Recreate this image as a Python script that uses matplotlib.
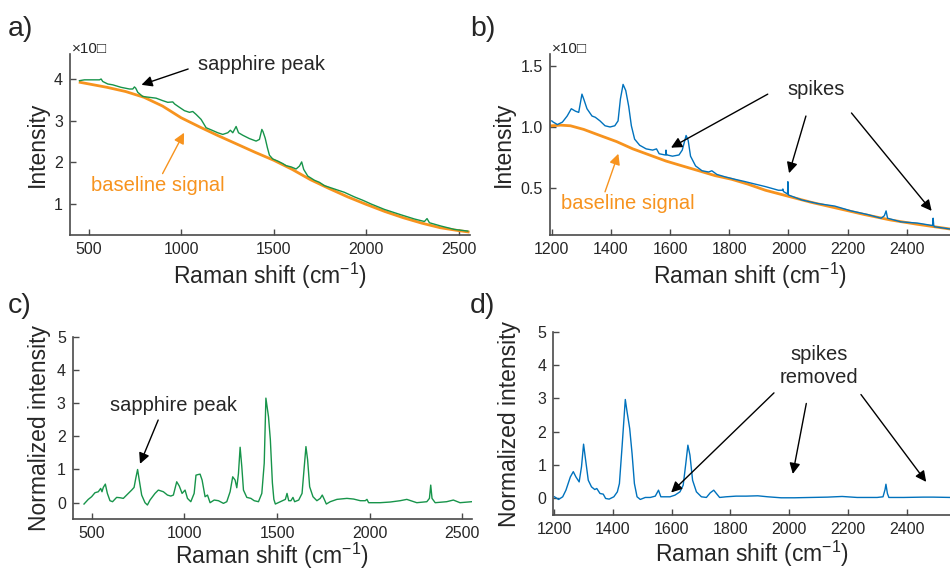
import matplotlib
matplotlib.use("Agg")
import matplotlib.pyplot as plt

plt.rcParams['font.family'] = ['Liberation Sans', 'DejaVu Sans']
plt.rcParams['mathtext.fontset'] = 'custom'
plt.rcParams['mathtext.rm'] = 'Liberation Sans'
plt.rcParams['mathtext.it'] = 'Liberation Sans:italic'
plt.rcParams['mathtext.bf'] = 'Liberation Sans:bold'

# ---------------- data ----------------
# a) raw spectrum (full range) and fitted baseline, intensity in units of 1e4
raw_full_x = [451, 478, 514, 559, 568, 577, 604, 631, 676, 721, 739, 748, 755, 766, 793, 829, 865,
              901, 928, 955, 965, 991, 1018, 1045, 1063, 1081, 1108, 1135, 1162, 1198, 1225, 1252,
              1266, 1279, 1297, 1310, 1333, 1369, 1405, 1423, 1436, 1442, 1454, 1466, 1477, 1495,
              1522, 1549, 1567, 1594, 1621, 1639, 1651, 1662, 1684, 1720, 1747, 1774, 1828, 1882,
              1936, 1981, 2026, 2098, 2188, 2260, 2314, 2328, 2341, 2404, 2476, 2548]
raw_full_y = [3.96, 3.98, 3.98, 3.98, 4.00, 3.94, 3.88, 3.86, 3.80, 3.76, 3.76, 3.81, 3.78, 3.68,
              3.58, 3.56, 3.54, 3.48, 3.44, 3.45, 3.40, 3.32, 3.24, 3.20, 3.22, 3.15, 3.03, 2.83,
              2.78, 2.71, 2.67, 2.71, 2.77, 2.71, 2.86, 2.71, 2.65, 2.57, 2.51, 2.55, 2.79, 2.74,
              2.58, 2.35, 2.17, 2.08, 2.03, 1.97, 1.92, 1.89, 1.84, 1.91, 2.01, 1.83, 1.67, 1.57,
              1.52, 1.44, 1.36, 1.28, 1.17, 1.09, 1.00, 0.87, 0.74, 0.64, 0.58, 0.65, 0.55, 0.47,
              0.39, 0.35]
base_full_x = [455, 600, 700, 800, 900, 1000, 1100, 1200, 1300, 1400, 1500, 1600, 1700, 1800,
               1900, 2000, 2100, 2200, 2300, 2400, 2500, 2550]
base_full_y = [3.92, 3.80, 3.70, 3.56, 3.35, 3.07, 2.85, 2.64, 2.44, 2.24, 2.05, 1.83, 1.58, 1.37,
               1.17, 0.99, 0.82, 0.67, 0.54, 0.43, 0.36, 0.33]

# b) raw spectrum (fingerprint window, with cosmic-ray spikes) and baseline, units of 1e4
raw_win_x = [1200, 1205, 1219, 1236, 1252, 1266, 1280, 1291, 1302, 1308, 1319, 1336, 1347, 1363,
             1380, 1397, 1413, 1424, 1432, 1441, 1450, 1460, 1469, 1480, 1497, 1519, 1541, 1554,
             1563, 1583, 1585, 1586, 1588, 1590, 1608, 1630, 1641, 1654, 1661, 1669, 1686, 1708,
             1730, 1741, 1758, 1786, 1819, 1855, 1888, 1922, 1966, 1979, 1981, 1983, 1996, 1997,
             1998, 1999, 2001, 2045, 2100, 2156, 2212, 2268, 2313, 2324, 2330, 2335, 2380, 2436,
             2486, 2487, 2489, 2491, 2493, 2550]
raw_win_y = [1.05, 1.04, 1.02, 1.04, 1.09, 1.15, 1.13, 1.12, 1.27, 1.23, 1.15, 1.09, 1.08, 1.05,
             1.01, 1.00, 1.01, 1.05, 1.23, 1.35, 1.30, 1.17, 1.01, 0.90, 0.85, 0.82, 0.81, 0.82,
             0.78, 0.77, 0.77, 0.81, 0.77, 0.77, 0.76, 0.77, 0.81, 0.93, 0.89, 0.76, 0.68, 0.64,
             0.63, 0.64, 0.61, 0.59, 0.57, 0.55, 0.53, 0.51, 0.48, 0.48, 0.49, 0.47, 0.45, 0.45,
             0.55, 0.45, 0.44, 0.40, 0.37, 0.35, 0.31, 0.28, 0.25, 0.27, 0.31, 0.25, 0.22, 0.21,
             0.19, 0.19, 0.25, 0.19, 0.18, 0.16]
base_win_x = [1200, 1230, 1263, 1308, 1363, 1419, 1474, 1530, 1586, 1641, 1697, 1752, 1808, 1863,
              1922, 2000, 2078, 2168, 2257, 2346, 2436, 2550]
base_win_y = [1.01, 1.015, 1.01, 0.98, 0.93, 0.88, 0.82, 0.77, 0.72, 0.68, 0.64, 0.60, 0.57, 0.53,
              0.48, 0.43, 0.38, 0.33, 0.28, 0.235, 0.20, 0.16]

# c) baseline-corrected, normalized spectrum (full range)
norm_full_x = [459, 482, 500, 518, 536, 549, 556, 563, 574, 585, 599, 613, 635, 653, 671, 698, 716,
               729, 738, 748, 757, 770, 788, 801, 815, 842, 860, 887, 909, 927, 941, 959, 973, 988,
               1004, 1017, 1035, 1053, 1063, 1076, 1085, 1096, 1112, 1125, 1139, 1161, 1184, 1211,
               1229, 1247, 1261, 1274, 1283, 1292, 1301, 1310, 1319, 1337, 1359, 1377, 1400, 1418,
               1431, 1440, 1454, 1464, 1475, 1483, 1491, 1518, 1545, 1554, 1563, 1575, 1586, 1595,
               1617, 1635, 1647, 1656, 1665, 1676, 1694, 1715, 1733, 1744, 1755, 1766, 1787, 1823,
               1877, 1913, 1949, 1976, 1985, 1994, 2056, 2110, 2164, 2200, 2254, 2308, 2322, 2329,
               2336, 2353, 2415, 2451, 2487, 2550]
norm_full_y = [-0.04, 0.10, 0.18, 0.30, 0.33, 0.43, 0.33, 0.46, 0.56, 0.28, 0.06, 0.03, 0.16, 0.15,
               0.13, 0.28, 0.38, 0.46, 0.73, 1.00, 0.68, 0.23, 0.00, -0.07, 0.08, 0.28, 0.38, 0.33,
               0.23, 0.20, 0.23, 0.63, 0.50, 0.28, 0.38, 0.13, 0.03, 0.28, 0.83, 0.85, 0.86, 0.68,
               0.18, 0.23, 0.00, 0.08, 0.06, -0.02, 0.03, 0.33, 0.78, 0.68, 0.45, 0.88, 1.67, 1.09,
               0.38, 0.16, 0.13, 0.06, 0.03, 0.28, 1.19, 3.15, 2.59, 1.90, 0.60, 0.10, -0.04, 0.03,
               0.10, 0.28, 0.06, 0.06, 0.16, 0.03, 0.08, 0.28, 1.09, 1.69, 1.29, 0.48, 0.18, 0.06,
               0.13, 0.23, 0.10, -0.04, 0.03, 0.10, 0.13, 0.11, 0.06, 0.06, 0.10, 0.00, 0.00, 0.02,
               0.06, 0.10, 0.00, 0.03, 0.13, 0.53, 0.13, 0.00, 0.03, 0.08, 0.00, 0.03]

# d) baseline-corrected, normalized spectrum (window, spikes removed)
norm_win_x = [1201, 1215, 1229, 1240, 1255, 1265, 1274, 1285, 1293, 1300, 1307, 1316, 1327, 1338,
              1345, 1356, 1367, 1375, 1387, 1403, 1415, 1422, 1431, 1442, 1448, 1457, 1465, 1473,
              1482, 1493, 1510, 1527, 1544, 1555, 1563, 1578, 1594, 1611, 1628, 1639, 1648, 1655,
              1662, 1671, 1684, 1701, 1718, 1731, 1743, 1752, 1763, 1785, 1819, 1853, 1893, 1927,
              1972, 2017, 2073, 2130, 2180, 2231, 2299, 2319, 2326, 2329, 2334, 2339, 2389, 2456,
              2490, 2550]
norm_win_y = [0.03, -0.05, 0.03, 0.23, 0.63, 0.79, 0.63, 0.48, 0.94, 1.62, 1.14, 0.53, 0.33, 0.25,
              0.28, 0.13, 0.11, -0.02, -0.04, 0.03, 0.18, 0.43, 1.54, 2.97, 2.60, 2.09, 1.34, 0.43,
              0.03, -0.05, 0.01, 0.01, 0.05, 0.23, 0.03, 0.03, 0.03, 0.08, 0.18, 0.38, 1.04, 1.59,
              1.29, 0.53, 0.18, 0.03, 0.01, 0.15, 0.23, 0.13, 0.01, 0.03, 0.05, 0.05, 0.06, 0.03,
              0.00, 0.00, 0.01, 0.02, 0.04, 0.01, 0.01, 0.03, 0.25, 0.41, 0.13, 0.01, 0.01, 0.02,
              0.02, 0.01]

xticks_full = [500, 1000, 1500, 2000, 2500]
xticks_win = [1200, 1400, 1600, 1800, 2000, 2200, 2400]
yticks_a = [1, 2, 3, 4]
yticks_b = [0.5, 1.0, 1.5]
yticks_norm = [0, 1, 2, 3, 4, 5]
yticklabels_b = ['0.5', '1.0', '1.5']

# ---------------- style ----------------
GREEN = '#17944a'
BLUE = '#0072bd'
ORANGE = '#f7931e'
SPINE = '#4a4a4a'
TEXT = '#262626'
W, H = 950, 571

fig = plt.figure(figsize=(9.5, 5.71), dpi=100)


def box(l, t, r, b):
    return [l / W, 1 - b / H, (r - l) / W, (b - t) / H]


def style(ax, xticks, yticks, xlim, ylim, ylabel, xpad=3, ypad=4):
    for s in ('top', 'right'):
        ax.spines[s].set_visible(False)
    for s in ('left', 'bottom'):
        ax.spines[s].set_color(SPINE)
        ax.spines[s].set_linewidth(1.2)
    ax.set_xlim(*xlim)
    ax.set_ylim(*ylim)
    ax.set_xticks(xticks)
    ax.set_yticks(yticks)
    ax.tick_params(direction='in', length=4, width=1, color=SPINE,
                   labelcolor=TEXT, labelsize=11.5, pad=5)
    ax.set_xlabel(r'Raman shift (cm$^{-1}$)', fontsize=16.5, color=TEXT, labelpad=xpad)
    ax.set_ylabel(ylabel, fontsize=16.5, color=TEXT, labelpad=ypad)
    ax.patch.set_alpha(0)


def arrow(ax, start, tip, color='k'):
    ax.annotate('', xy=tip, xytext=start, xycoords='data', textcoords='data',
                arrowprops=dict(arrowstyle='-|>', color=color, lw=1.0,
                                mutation_scale=16, shrinkA=0, shrinkB=0),
                annotation_clip=False)


ANN = 14.5

# a)
ax_a = fig.add_axes(box(70, 54, 470, 235))
ax_a.plot(base_full_x, base_full_y, color=ORANGE, lw=2.0)
ax_a.plot(raw_full_x, raw_full_y, color=GREEN, lw=1.0)
style(ax_a, xticks_full, yticks_a, (400, 2560), (0.256, 4.6), 'Intensity')
ax_a.text(1090, 4.35, 'sapphire peak', fontsize=ANN, color=TEXT, va='center', ha='left')
arrow(ax_a, (1038, 4.24), (786, 3.86))
ax_a.text(511, 1.45, 'baseline signal', fontsize=ANN, color=ORANGE, va='center', ha='left')
arrow(ax_a, (900, 1.73), (1016, 2.71), color=ORANGE)

# b)
ax_b = fig.add_axes(box(550, 54, 950, 235))
ax_b.plot(base_win_x, base_win_y, color=ORANGE, lw=2.0)
ax_b.plot(raw_win_x, raw_win_y, color=BLUE, lw=1.0)
style(ax_b, xticks_win, yticks_b, (1194, 2546), (0.112, 1.6), 'Intensity')
ax_b.set_yticklabels(yticklabels_b)
ax_b.text(2095, 1.31, 'spikes', fontsize=ANN, color=TEXT, va='center', ha='center')
arrow(ax_b, (1930, 1.27), (1603, 0.83))
arrow(ax_b, (2059, 1.09), (2002, 0.62))
arrow(ax_b, (2213, 1.115), (2484, 0.31))
ax_b.text(1230, 0.37, 'baseline signal', fontsize=ANN, color=ORANGE, va='center', ha='left')
arrow(ax_b, (1380, 0.467), (1425, 0.78), color=ORANGE)

# c)
ax_c = fig.add_axes(box(72.7, 336.7, 471.7, 519.3))
ax_c.plot(norm_full_x, norm_full_y, color=GREEN, lw=1.0)
style(ax_c, xticks_full, yticks_norm, (398, 2550), (-0.5, 5), 'Normalized intensity',
      xpad=0)
ax_c.text(599, 2.92, 'sapphire peak', fontsize=ANN, color=TEXT, va='center', ha='left')
arrow(ax_c, (859, 2.49), (761, 1.17))

# d)
ax_d = fig.add_axes(box(553.3, 332.3, 950, 515))
ax_d.plot(norm_win_x, norm_win_y, color=BLUE, lw=1.0)
style(ax_d, xticks_win, yticks_norm, (1197, 2547), (-0.52, 5), 'Normalized intensity',
      xpad=1.5, ypad=12)
ax_d.text(2100, 3.98, 'spikes\nremoved', fontsize=ANN, color=TEXT, va='center', ha='center',
          linespacing=1.3)
arrow(ax_d, (1948, 3.17), (1598, 0.16))
arrow(ax_d, (2058, 2.85), (2012, 0.72))
arrow(ax_d, (2244, 3.12), (2466, 0.48))

# exponent markers above the raw-intensity axes
for x0 in (71.5, 551.5):
    fig.text(x0 / W, 1 - 49 / H, '\u00d710\u25a1', fontsize=11, color=TEXT, va='center',
             ha='left', family=['Liberation Sans', 'DejaVu Sans'])

# panel letters
for lab, x0, y0 in (('a)', 8, 29), ('b)', 470, 29), ('c)', 8, 306), ('d)', 470, 306)):
    fig.text(x0 / W, 1 - y0 / H, lab, fontsize=20.5, color=TEXT, va='center', ha='left')

fig.savefig('out.png', dpi=100)
